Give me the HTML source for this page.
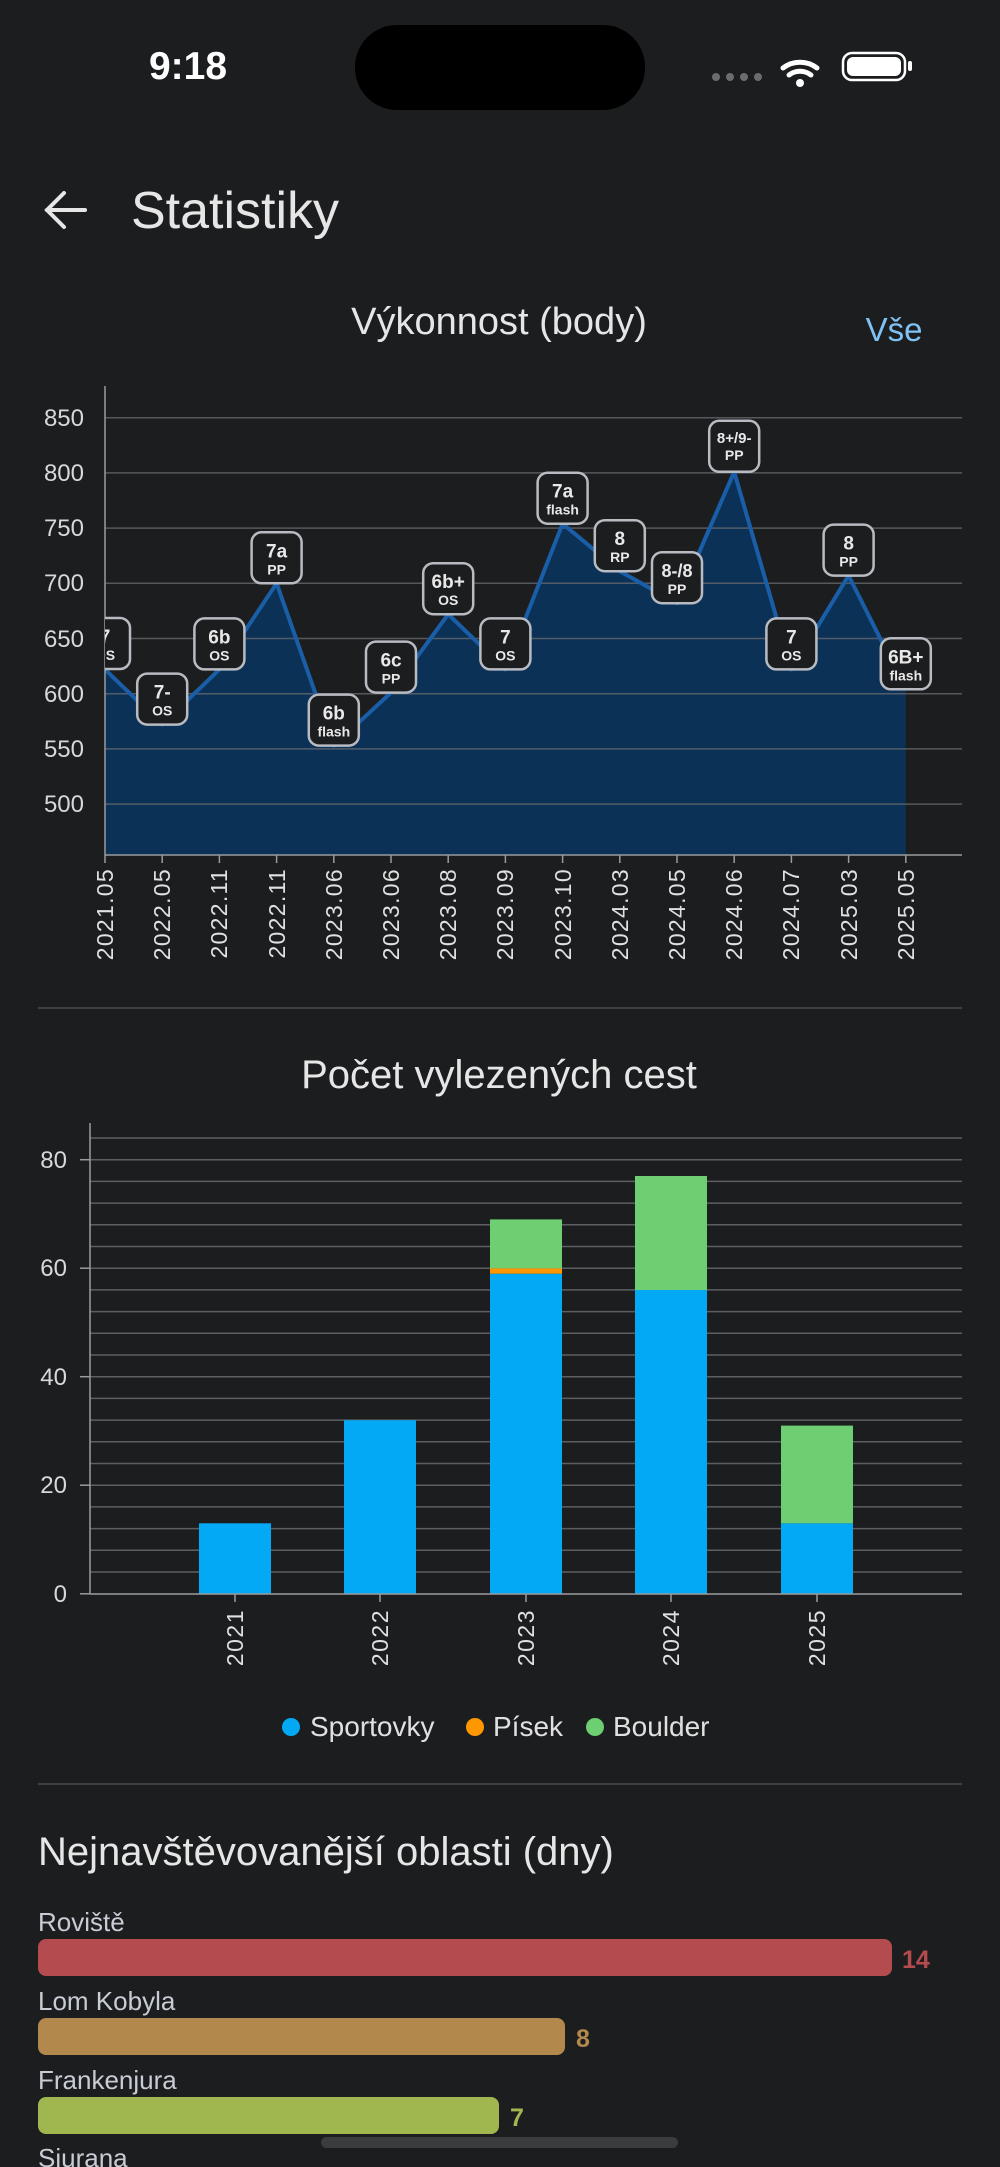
<!DOCTYPE html>
<html><head><meta charset="utf-8"><style>
html,body{margin:0;padding:0;background:#1c1d1f;width:1000px;height:2167px;overflow:hidden}
svg{display:block;font-family:"Liberation Sans",sans-serif}
</style></head><body>
<svg width="1000" height="2167" viewBox="0 0 1000 2167" xmlns="http://www.w3.org/2000/svg">
<rect width="1000" height="2167" fill="#1c1d1f"/>
<!-- status bar -->
<text x="188" y="79" font-size="39" font-weight="bold" fill="#fff" text-anchor="middle">9:18</text>
<rect x="355" y="25" width="290" height="85" rx="42" fill="#000"/>
<g fill="#6b6c6e"><circle cx="716" cy="77" r="4"/><circle cx="730" cy="77" r="4"/><circle cx="744" cy="77" r="4"/><circle cx="758" cy="77" r="4"/></g>
<g fill="none" stroke="#fff" stroke-width="5" stroke-linecap="round">
<path d="M783 68 a28 28 0 0 1 34 0"/><path d="M789 75 a18 18 0 0 1 22 0"/></g>
<circle cx="800" cy="83" r="4" fill="#fff"/>
<rect x="843" y="53" width="62" height="27" rx="9" fill="none" stroke="#fff" stroke-width="2.5"/>
<rect x="847" y="57" width="54" height="19" rx="6" fill="#fff"/>
<rect x="908" y="61" width="4" height="10" rx="2" fill="#fff"/>
<!-- header -->
<g stroke="#e6e6e6" stroke-width="4" fill="none" stroke-linecap="round"><path d="M47 210 h38"/><path d="M64 193 l-17 17 l17 17"/></g>
<text x="131" y="228" font-size="52" fill="#e6e6e6">Statistiky</text>
<!-- chart 1 -->
<text x="499" y="334" font-size="38" fill="#e6e6e6" text-anchor="middle">Výkonnost (body)</text>
<text x="894" y="341" font-size="33" fill="#7fc2f4" text-anchor="middle">Vše</text>
<polygon fill="#0c3156" points="105,855 105,669.4 162.2,724.6 219.4,669.4 276.6,583.3 333.8,745.6 391,692.6 448.2,614.2 505.4,669.4 562.6,523.7 619.8,571.2 677,603.2 734.2,471.8 791.4,669.4 848.6,575.6 905.8,689.3 905.8,855"/>
<g stroke="#6a6c70" stroke-opacity="0.75" stroke-width="1.5">
<line x1="105" x2="962" y1="417.7" y2="417.7"/><line x1="105" x2="962" y1="472.9" y2="472.9"/>
<line x1="105" x2="962" y1="528.1" y2="528.1"/><line x1="105" x2="962" y1="583.3" y2="583.3"/>
<line x1="105" x2="962" y1="638.5" y2="638.5"/><line x1="105" x2="962" y1="693.7" y2="693.7"/>
<line x1="105" x2="962" y1="748.9" y2="748.9"/><line x1="105" x2="962" y1="804.1" y2="804.1"/>
</g>
<g font-size="24" fill="#d8d8d8" text-anchor="end">
<text x="84" y="426">850</text><text x="84" y="481">800</text><text x="84" y="536">750</text><text x="84" y="591">700</text>
<text x="84" y="647">650</text><text x="84" y="702">600</text><text x="84" y="757">550</text><text x="84" y="812">500</text>
</g>
<polyline fill="none" stroke="#1a5ea8" stroke-width="4" stroke-linejoin="round" points="105,669.4 162.2,724.6 219.4,669.4 276.6,583.3 333.8,745.6 391,692.6 448.2,614.2 505.4,669.4 562.6,523.7 619.8,571.2 677,603.2 734.2,471.8 791.4,669.4 848.6,575.6 905.8,689.3"/>
<g stroke="#9a9b9d" stroke-width="1.5"><line x1="105" y1="386" x2="105" y2="855"/><line x1="105" y1="855" x2="962" y2="855"/></g>
<g stroke="#9a9b9d" stroke-width="1.5">
<line x1="105" x2="105" y1="855" y2="863"/><line x1="162.2" x2="162.2" y1="855" y2="863"/><line x1="219.4" x2="219.4" y1="855" y2="863"/><line x1="276.6" x2="276.6" y1="855" y2="863"/><line x1="333.8" x2="333.8" y1="855" y2="863"/><line x1="391" x2="391" y1="855" y2="863"/><line x1="448.2" x2="448.2" y1="855" y2="863"/><line x1="505.4" x2="505.4" y1="855" y2="863"/><line x1="562.6" x2="562.6" y1="855" y2="863"/><line x1="619.8" x2="619.8" y1="855" y2="863"/><line x1="677" x2="677" y1="855" y2="863"/><line x1="734.2" x2="734.2" y1="855" y2="863"/><line x1="791.4" x2="791.4" y1="855" y2="863"/><line x1="848.6" x2="848.6" y1="855" y2="863"/><line x1="905.8" x2="905.8" y1="855" y2="863"/>
</g>
<g font-size="23" fill="#e0e0e0" text-anchor="end" letter-spacing="1.3">
<text transform="translate(113,868) rotate(-90)">2021.05</text><text transform="translate(170,868) rotate(-90)">2022.05</text><text transform="translate(227,868) rotate(-90)">2022.11</text><text transform="translate(285,868) rotate(-90)">2022.11</text><text transform="translate(342,868) rotate(-90)">2023.06</text><text transform="translate(399,868) rotate(-90)">2023.06</text><text transform="translate(456,868) rotate(-90)">2023.08</text><text transform="translate(513,868) rotate(-90)">2023.09</text><text transform="translate(571,868) rotate(-90)">2023.10</text><text transform="translate(628,868) rotate(-90)">2024.03</text><text transform="translate(685,868) rotate(-90)">2024.05</text><text transform="translate(742,868) rotate(-90)">2024.06</text><text transform="translate(799,868) rotate(-90)">2024.07</text><text transform="translate(857,868) rotate(-90)">2025.03</text><text transform="translate(914,868) rotate(-90)">2025.05</text>
</g>
<defs><clipPath id="c1"><rect x="105" y="380" width="880" height="480"/></clipPath></defs>
<g clip-path="url(#c1)" font-weight="bold" fill="#e8e8e8" text-anchor="middle">
<g transform="translate(105,669)"><rect x="-25" y="-51" width="50" height="51" rx="10" fill="#1c1d1f" stroke="#b8bcc2" stroke-width="2.5"/><text y="-26" font-size="19">7</text><text y="-9" font-size="14">OS</text></g>
<g transform="translate(162.2,724.6)"><rect x="-25" y="-51" width="50" height="51" rx="10" fill="#1c1d1f" stroke="#b8bcc2" stroke-width="2.5"/><text y="-26" font-size="19">7-</text><text y="-9" font-size="14">OS</text></g>
<g transform="translate(219.4,669.4)"><rect x="-25" y="-51" width="50" height="51" rx="10" fill="#1c1d1f" stroke="#b8bcc2" stroke-width="2.5"/><text y="-26" font-size="19">6b</text><text y="-9" font-size="14">OS</text></g>
<g transform="translate(276.6,583.3)"><rect x="-25" y="-51" width="50" height="51" rx="10" fill="#1c1d1f" stroke="#b8bcc2" stroke-width="2.5"/><text y="-26" font-size="19">7a</text><text y="-9" font-size="14">PP</text></g>
<g transform="translate(333.8,745.6)"><rect x="-25" y="-51" width="50" height="51" rx="10" fill="#1c1d1f" stroke="#b8bcc2" stroke-width="2.5"/><text y="-26" font-size="19">6b</text><text y="-9" font-size="14">flash</text></g>
<g transform="translate(391,692.6)"><rect x="-25" y="-51" width="50" height="51" rx="10" fill="#1c1d1f" stroke="#b8bcc2" stroke-width="2.5"/><text y="-26" font-size="19">6c</text><text y="-9" font-size="14">PP</text></g>
<g transform="translate(448.2,614.2)"><rect x="-25" y="-51" width="50" height="51" rx="10" fill="#1c1d1f" stroke="#b8bcc2" stroke-width="2.5"/><text y="-26" font-size="19">6b+</text><text y="-9" font-size="14">OS</text></g>
<g transform="translate(505.4,669.4)"><rect x="-25" y="-51" width="50" height="51" rx="10" fill="#1c1d1f" stroke="#b8bcc2" stroke-width="2.5"/><text y="-26" font-size="19">7</text><text y="-9" font-size="14">OS</text></g>
<g transform="translate(562.6,523.7)"><rect x="-25" y="-51" width="50" height="51" rx="10" fill="#1c1d1f" stroke="#b8bcc2" stroke-width="2.5"/><text y="-26" font-size="19">7a</text><text y="-9" font-size="14">flash</text></g>
<g transform="translate(619.8,571.2)"><rect x="-25" y="-51" width="50" height="51" rx="10" fill="#1c1d1f" stroke="#b8bcc2" stroke-width="2.5"/><text y="-26" font-size="19">8</text><text y="-9" font-size="14">RP</text></g>
<g transform="translate(677,603.2)"><rect x="-25" y="-51" width="50" height="51" rx="10" fill="#1c1d1f" stroke="#b8bcc2" stroke-width="2.5"/><text y="-26" font-size="18">8-/8</text><text y="-9" font-size="14">PP</text></g>
<g transform="translate(734.2,471.8)"><rect x="-25" y="-51" width="50" height="51" rx="10" fill="#1c1d1f" stroke="#b8bcc2" stroke-width="2.5"/><text y="-29" font-size="15">8+/9-</text><text y="-12" font-size="14">PP</text></g>
<g transform="translate(791.4,669.4)"><rect x="-25" y="-51" width="50" height="51" rx="10" fill="#1c1d1f" stroke="#b8bcc2" stroke-width="2.5"/><text y="-26" font-size="19">7</text><text y="-9" font-size="14">OS</text></g>
<g transform="translate(848.6,575.6)"><rect x="-25" y="-51" width="50" height="51" rx="10" fill="#1c1d1f" stroke="#b8bcc2" stroke-width="2.5"/><text y="-26" font-size="19">8</text><text y="-9" font-size="14">PP</text></g>
<g transform="translate(905.8,689.3)"><rect x="-25" y="-51" width="50" height="51" rx="10" fill="#1c1d1f" stroke="#b8bcc2" stroke-width="2.5"/><text y="-26" font-size="19">6B+</text><text y="-9" font-size="14">flash</text></g>
</g>
<line x1="38" x2="962" y1="1008" y2="1008" stroke="#3d3f42" stroke-width="2"/>
<!-- chart 2 -->
<text x="499" y="1088" font-size="40" fill="#e6e6e6" text-anchor="middle">Počet vylezených cest</text>
<g stroke="#5c5e61" stroke-width="1.5">
<line x1="90" x2="962" y1="1138" y2="1138"/><line x1="90" x2="962" y1="1159.7" y2="1159.7"/><line x1="90" x2="962" y1="1181.4" y2="1181.4"/><line x1="90" x2="962" y1="1203.1" y2="1203.1"/><line x1="90" x2="962" y1="1224.8" y2="1224.8"/><line x1="90" x2="962" y1="1246.5" y2="1246.5"/><line x1="90" x2="962" y1="1268.2" y2="1268.2"/><line x1="90" x2="962" y1="1289.9" y2="1289.9"/><line x1="90" x2="962" y1="1311.6" y2="1311.6"/><line x1="90" x2="962" y1="1333.3" y2="1333.3"/><line x1="90" x2="962" y1="1355" y2="1355"/><line x1="90" x2="962" y1="1376.7" y2="1376.7"/><line x1="90" x2="962" y1="1398.4" y2="1398.4"/><line x1="90" x2="962" y1="1420.1" y2="1420.1"/><line x1="90" x2="962" y1="1441.8" y2="1441.8"/><line x1="90" x2="962" y1="1463.5" y2="1463.5"/><line x1="90" x2="962" y1="1485.2" y2="1485.2"/><line x1="90" x2="962" y1="1506.9" y2="1506.9"/><line x1="90" x2="962" y1="1528.6" y2="1528.6"/><line x1="90" x2="962" y1="1550.3" y2="1550.3"/><line x1="90" x2="962" y1="1572" y2="1572"/>
</g>
<g font-size="24" fill="#d8d8d8" text-anchor="end">
<text x="67" y="1168">80</text><text x="67" y="1276">60</text><text x="67" y="1385">40</text><text x="67" y="1493">20</text><text x="67" y="1602">0</text>
</g>
<g stroke="#9a9b9d" stroke-width="1.5"><line x1="80" x2="90" y1="1159.7" y2="1159.7"/><line x1="80" x2="90" y1="1268.2" y2="1268.2"/><line x1="80" x2="90" y1="1376.7" y2="1376.7"/><line x1="80" x2="90" y1="1485.2" y2="1485.2"/><line x1="80" x2="90" y1="1593.8" y2="1593.8"/></g>
<rect x="199" y="1523.3" width="72" height="70.5" fill="#03a9f4"/>
<rect x="344" y="1420.2" width="72" height="173.6" fill="#03a9f4"/>
<rect x="490" y="1273.7" width="72" height="320.1" fill="#03a9f4"/>
<rect x="490" y="1268.3" width="72" height="5.4" fill="#ff9800"/>
<rect x="490" y="1219.4" width="72" height="48.9" fill="#6ecf72"/>
<rect x="635" y="1290" width="72" height="303.8" fill="#03a9f4"/>
<rect x="635" y="1176" width="72" height="114" fill="#6ecf72"/>
<rect x="781" y="1523.3" width="72" height="70.5" fill="#03a9f4"/>
<rect x="781" y="1425.6" width="72" height="97.7" fill="#6ecf72"/>
<g stroke="#9a9b9d" stroke-width="1.5"><line x1="90" y1="1123" x2="90" y2="1594"/><line x1="90" y1="1594" x2="962" y2="1594"/>
<line x1="235" x2="235" y1="1594" y2="1602"/><line x1="380" x2="380" y1="1594" y2="1602"/><line x1="526" x2="526" y1="1594" y2="1602"/><line x1="671" x2="671" y1="1594" y2="1602"/><line x1="817" x2="817" y1="1594" y2="1602"/></g>
<g font-size="23" fill="#e0e0e0" text-anchor="end" letter-spacing="1.5">
<text transform="translate(243,1609) rotate(-90)">2021</text><text transform="translate(388,1609) rotate(-90)">2022</text><text transform="translate(534,1609) rotate(-90)">2023</text><text transform="translate(679,1609) rotate(-90)">2024</text><text transform="translate(825,1609) rotate(-90)">2025</text>
</g>
<circle cx="291" cy="1727" r="9" fill="#03a9f4"/><text x="310" y="1736" font-size="28" fill="#e0e0e0">Sportovky</text>
<circle cx="475" cy="1727" r="9" fill="#ff9800"/><text x="493" y="1736" font-size="28" fill="#e0e0e0">Písek</text>
<circle cx="595" cy="1727" r="9" fill="#6ecf72"/><text x="613" y="1736" font-size="28" fill="#e0e0e0">Boulder</text>
<line x1="38" x2="962" y1="1784" y2="1784" stroke="#3d3f42" stroke-width="2"/>
<!-- section 3 -->
<text x="38" y="1865" font-size="40" fill="#e6e6e6">Nejnavštěvovanější oblasti (dny)</text>
<text x="38" y="1931" font-size="26" fill="#c8ccd4">Roviště</text>
<rect x="38" y="1939" width="854" height="37" rx="8" fill="#b44c4f"/>
<text x="902" y="1968" font-size="25" font-weight="bold" fill="#b44c4f">14</text>
<text x="38" y="2010" font-size="26" fill="#c8ccd4">Lom Kobyla</text>
<rect x="38" y="2018" width="527" height="37" rx="8" fill="#b3884d"/>
<text x="576" y="2047" font-size="25" font-weight="bold" fill="#b3884d">8</text>
<text x="38" y="2089" font-size="26" fill="#c8ccd4">Frankenjura</text>
<rect x="38" y="2097" width="461" height="37" rx="8" fill="#a0b64f"/>
<text x="510" y="2126" font-size="25" font-weight="bold" fill="#a0b64f">7</text>
<text x="38" y="2167" font-size="26" fill="#c8ccd4">Siurana</text>
<rect x="321" y="2137" width="357" height="11" rx="5.5" fill="#3b3c3e"/>
</svg>
</body></html>
